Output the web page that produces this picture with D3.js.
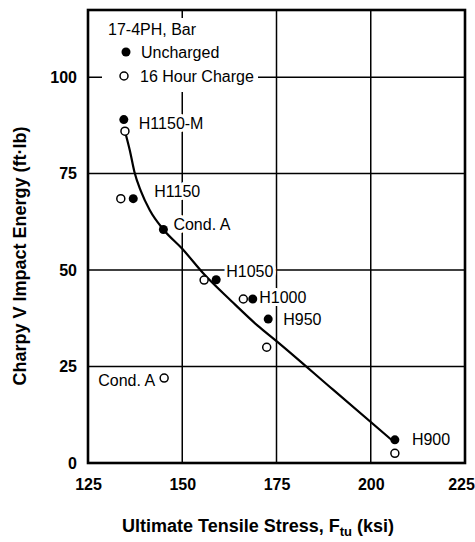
<!DOCTYPE html>
<html>
<head>
<meta charset="utf-8">
<script src="https://cdn.jsdelivr.net/npm/d3@7"></script>
<style>
  html, body { margin: 0; padding: 0; background: #fff; }
  svg { display: block; font-family: "Liberation Sans", Arial, Helvetica, sans-serif; }
</style>
</head>
<body>
<svg id="chart" width="475" height="542"></svg>
<script>
// 17-4PH bar: Charpy V impact energy versus ultimate tensile stress
const conditions = ["H1150-M", "H1150", "Cond. A", "H1050", "H1000", "H950", "H900"];
const unchargedStress = [134.5, 137.0, 145.0, 159.0, 168.7, 172.8, 206.4];
const unchargedEnergy = [89.0, 68.5, 60.5, 47.5, 42.5, 37.3, 6.0];
const chargedStress = [134.8, 133.7, 145.2, 155.8, 166.2, 172.4, 206.4];
const chargedEnergy = [86.0, 68.5, 22.0, 47.4, 42.5, 30.0, 2.5];

// trend curve
const trendStress = [134.8, 136.1, 137.3, 139.0, 141.4, 145.0, 150.0, 156.0, 163.0, 170.0, 175.0, 190.0, 206.0];
const trendEnergy = [86.0, 81.0, 75.5, 70.5, 65.5, 60.5, 55.5, 48.7, 42.0, 35.6, 31.6, 19.0, 5.6];

const xTicks = [125, 150, 175, 200, 225];
const yTicks = [0, 25, 50, 75, 100];
const legendTitle = "17-4PH, Bar";
const seriesNames = ["Uncharged", "16 Hour Charge"];
const xTitle = ["Ultimate Tensile Stress, F", "tu", " (ksi)"];
const yTitle = "Charpy V Impact Energy (ft\u00b7lb)";

const svg = d3.select("#chart");
const L = 88, R = 465, T = 10, B = 463;

const x = d3.scaleLinear().domain([125, 225]).range([L, R]);
const y = d3.scaleLinear().domain([0, 117.4]).range([B, T]);

// grid
const grid = svg.append("g").attr("stroke", "#000").attr("stroke-width", 1.5);
grid.selectAll("line.v").data(xTicks.slice(1, -1)).join("line")
  .attr("x1", d => x(d)).attr("x2", d => x(d)).attr("y1", T).attr("y2", B);
grid.selectAll("line.h").data(yTicks.slice(1)).join("line")
  .attr("x1", L).attr("x2", R).attr("y1", d => y(d)).attr("y2", d => y(d));

// legend knock-out
svg.append("rect").attr("x", 102).attr("y", 18).attr("width", 156).attr("height", 74).attr("fill", "#fff");

// point labels: offsets from the labelled point, in pixels
const labelPlacement = {
  "H1150-M": {dx: 15, dy: 9, anchor: "start"},
  "H1150": {dx: 21, dy: -2, anchor: "start"},
  "Cond. A": {dx: 10, dy: 0, anchor: "start"},
  "H1050": {dx: 10, dy: -3, anchor: "start"},
  "H1000": {dx: 6.5, dy: 4, anchor: "start"},
  "H950": {dx: 15, dy: 6, anchor: "start"},
  "H900": {dx: 17, dy: 5, anchor: "start"}
};
const labelRows = conditions.map((c, i) => {
  const p = labelPlacement[c];
  return {text: c, px: x(unchargedStress[i]) + p.dx, py: y(unchargedEnergy[i]) + p.dy, anchor: p.anchor};
});
// the charged Cond. A sits apart from its curve and is labelled on its own
const ia = conditions.indexOf("Cond. A");
labelRows.push({text: "Cond. A", px: x(chargedStress[ia]) - 9, py: y(chargedEnergy[ia]) + 8, anchor: "end"});

function drawLabels(g, halo) {
  g.selectAll("text").data(labelRows).join("text")
    .attr("x", d => d.px).attr("y", d => d.py)
    .attr("text-anchor", d => d.anchor)
    .attr("font-size", 16)
    .attr("fill", halo ? "#fff" : "#000")
    .attr("stroke", halo ? "#fff" : "none")
    .attr("stroke-width", halo ? 6 : 0)
    .attr("stroke-linejoin", "round")
    .text(d => d.text);
}
drawLabels(svg.append("g"), true);

// trend curve
const line = d3.line().x(d => x(d[0])).y(d => y(d[1])).curve(d3.curveMonotoneX);
svg.append("path")
  .datum(trendStress.map((s, i) => [s, trendEnergy[i]]))
  .attr("d", line).attr("fill", "none").attr("stroke", "#000").attr("stroke-width", 2.2);

// points
svg.append("g").selectAll("circle").data(chargedStress.map((s, i) => [s, chargedEnergy[i]])).join("circle")
  .attr("cx", d => x(d[0])).attr("cy", d => y(d[1])).attr("r", 4)
  .attr("fill", "#fff").attr("stroke", "#000").attr("stroke-width", 1.5);
svg.append("g").selectAll("circle").data(unchargedStress.map((s, i) => [s, unchargedEnergy[i]])).join("circle")
  .attr("cx", d => x(d[0])).attr("cy", d => y(d[1])).attr("r", 4.5)
  .attr("fill", "#000");

drawLabels(svg.append("g"), false);

// legend
const lg = svg.append("g").attr("font-size", 16);
lg.append("text").attr("x", 108).attr("y", 35).text(legendTitle);
lg.append("circle").attr("cx", 126).attr("cy", 52).attr("r", 4.5).attr("fill", "#000");
lg.append("text").attr("x", 141).attr("y", 58).text(seriesNames[0]);
lg.append("circle").attr("cx", 124).attr("cy", 76).attr("r", 4).attr("fill", "#fff").attr("stroke", "#000").attr("stroke-width", 1.5);
lg.append("text").attr("x", 140).attr("y", 82).text(seriesNames[1]);

// axes
const xAxis = svg.append("g").attr("transform", `translate(0,${B})`)
  .call(d3.axisBottom(x).tickValues(xTicks).tickSize(0).tickPadding(15.5));
const yAxis = svg.append("g").attr("transform", `translate(${L},0)`)
  .call(d3.axisLeft(y).tickValues(yTicks).tickSize(0).tickPadding(11));
[xAxis, yAxis].forEach(a => {
  a.select(".domain").remove();
  a.selectAll("text").attr("font-size", 16).attr("font-weight", "bold")
    .attr("font-family", "Liberation Sans, Arial, sans-serif").attr("fill", "#000");
});
// keep the last stress label inside the page edge
xAxis.selectAll(".tick text").filter(d => d === 225).attr("dx", -4);

// frame
svg.append("rect").attr("x", L).attr("y", T).attr("width", R - L).attr("height", B - T)
  .attr("fill", "none").attr("stroke", "#000").attr("stroke-width", 2.6);

// titles
const xt = svg.append("text").attr("x", 258).attr("y", 532).attr("text-anchor", "middle")
  .attr("font-size", 18).attr("font-weight", "bold");
xt.append("tspan").text(xTitle[0]);
xt.append("tspan").attr("font-size", 13).attr("dy", 4).text(xTitle[1]);
xt.append("tspan").attr("dy", -4).text(xTitle[2]);

svg.append("text").attr("transform", "translate(26,256) rotate(-90)").attr("text-anchor", "middle")
  .attr("font-size", 18).attr("font-weight", "bold").text(yTitle);
</script>
</body>
</html>
